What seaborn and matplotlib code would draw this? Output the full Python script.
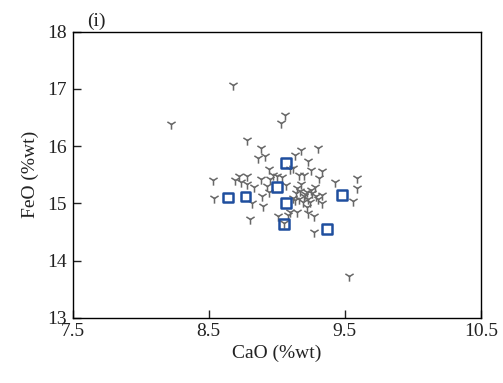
import matplotlib
matplotlib.use("Agg")
import matplotlib.pyplot as plt
import seaborn as sns
import pandas as pd

# Tri-down (grey) data points: CaO, FeO
tri_cao = [8.68, 8.22, 9.06, 9.03, 8.78, 8.88, 8.91, 8.86, 9.18, 9.30,
           9.13, 9.23, 8.94, 9.12, 9.25, 9.33, 9.31, 8.53, 8.69, 8.72,
           8.78, 8.74, 8.83, 8.78, 8.88, 8.95, 9.00, 8.93, 8.94, 9.16,
           9.43, 9.59, 9.59, 9.56, 8.54, 8.89, 8.90, 8.82, 8.80, 9.01,
           9.08, 9.15, 9.23, 9.27, 9.22, 9.27, 9.53, 9.33, 9.33, 9.26,
           9.28, 9.15, 9.14, 9.12, 9.16, 9.20, 9.23, 9.22, 9.29, 9.18,
           9.10, 9.20, 9.04, 9.07, 8.97, 9.05, 9.10, 9.17, 9.19, 9.13,
           9.25, 9.21, 9.30, 9.24]
tri_feo = [17.07, 16.38, 16.54, 16.41, 16.11, 15.96, 15.83, 15.80, 15.94, 15.97,
           15.85, 15.74, 15.60, 15.62, 15.58, 15.57, 15.44, 15.40, 15.40, 15.48,
           15.48, 15.38, 15.29, 15.34, 15.42, 15.42, 15.48, 15.30, 15.20, 15.49,
           15.38, 15.44, 15.26, 15.04, 15.09, 15.12, 14.95, 15.00, 14.72, 14.77,
           14.80, 14.85, 14.83, 14.78, 14.94, 14.50, 13.73, 15.15, 15.00, 15.18,
           15.28, 15.26, 15.18, 15.10, 15.07, 15.13, 15.07, 15.20, 15.12, 15.33,
           15.60, 15.50, 15.46, 15.32, 15.50, 14.65, 14.85, 15.22, 15.03, 15.05,
           15.24, 15.16, 15.08, 15.02]

# Square (blue) data points
sq_cao = [8.64, 8.77, 9.00, 9.07, 9.07, 9.05, 9.37, 9.48]
sq_feo = [15.10, 15.12, 15.28, 15.70, 15.01, 14.64, 14.55, 15.15]

x_ticks = [7.5, 8.5, 9.5, 10.5]
y_ticks = [13, 14, 15, 16, 17, 18]

sns.set_style("white")
plt.rcParams['font.family'] = ['Liberation Serif', 'DejaVu Serif']

fig = plt.figure(figsize=(5.03, 3.83), dpi=100)
ax = fig.add_axes([0.1445, 0.1705, 0.8118, 0.7467])

tri_df = pd.DataFrame({"CaO": tri_cao, "FeO": tri_feo})
sq_df = pd.DataFrame({"CaO": sq_cao, "FeO": sq_feo})

sns.scatterplot(data=tri_df, x="CaO", y="FeO", ax=ax, marker="1",
                color="#686868", s=55, linewidth=1.1, zorder=2)
sns.scatterplot(data=sq_df, x="CaO", y="FeO", ax=ax, marker="s",
                facecolors="none", edgecolor="#1f4e9e", s=50, linewidth=1.8,
                zorder=3)

ax.set_xlim(7.5, 10.5)
ax.set_ylim(13, 18)
ax.set_xticks(x_ticks)
ax.set_xticklabels([str(t) for t in x_ticks])
ax.set_yticks(y_ticks)
ax.set_yticklabels([str(t) for t in y_ticks])
ax.tick_params(direction="in", length=6, width=1, labelsize=14, colors="#222222",
               pad=4, top=False, right=False, bottom=True, left=True)
for side in ["left", "bottom", "top", "right"]:
    ax.spines[side].set_visible(True)
    ax.spines[side].set_color("black")
    ax.spines[side].set_linewidth(1.0)

ax.set_xlabel("CaO (%wt)", fontsize=14, labelpad=3, color="#222222")
ax.set_ylabel("FeO (%wt)", fontsize=14, labelpad=6, color="#222222")
ax.text(0.035, 1.005, "(i)", transform=ax.transAxes, fontsize=14,
        ha="left", va="bottom", color="#222222")

fig.savefig("out.png", dpi=100)
